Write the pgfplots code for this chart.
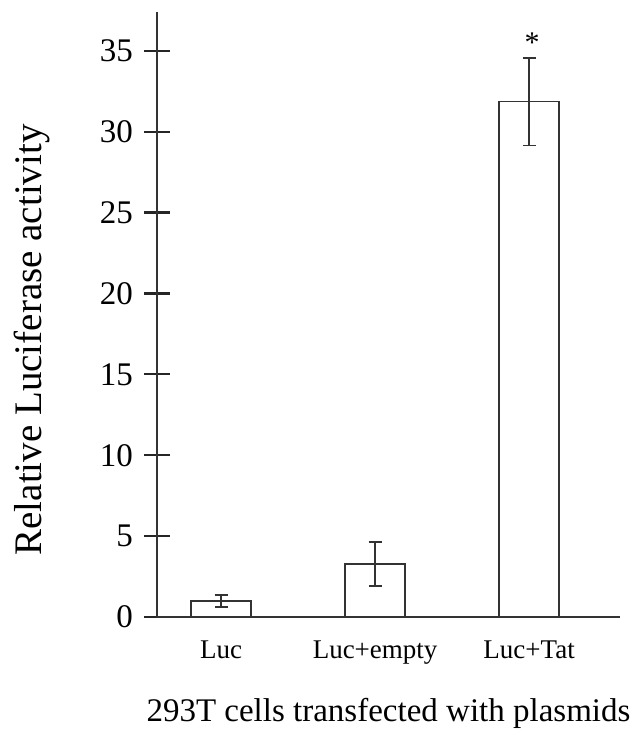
\documentclass[border=0pt]{standalone}
\usepackage{pgfplots}
\pgfplotsset{compat=1.18}
\usepackage{fontspec}
\setmainfont{Liberation Serif}
\begin{document}
\begin{tikzpicture}
\path[use as bounding box] (0,0) rectangle (644bp,731bp);
\begin{axis}[
  at={(157bp,114bp)}, anchor=south west,
  scale only axis,
  width=463bp, height=605bp,
  xmin=-0.416, xmax=2.59,
  ymin=0, ymax=37.4,
  axis lines=left,
  axis line style={-, line width=1.4bp, black!80},
  xtick={0,1,2},
  xticklabel style={font=\fontsize{27bp}{30bp}\selectfont, anchor=base, yshift=-29bp},
  xticklabels={Luc,Luc+empty,Luc+Tat},
  ytick={0,5,10,15,20,25,30,35},
  major tick length=25bp,
  tick align=center,
  x tick style={draw=none},
  y tick style={line width=2.2bp, draw=black!85},
  yticklabel style={font=\fontsize{33bp}{36bp}\selectfont, xshift=-8bp},
  /pgf/number format/assume math mode=true,
  ylabel={Relative Luciferase activity},
  ylabel style={font=\fontsize{39bp}{42bp}\selectfont, at={(axis description cs:-0.27,0.458)}, anchor=center},
  xlabel={293T cells transfected with plasmids},
  xlabel style={font=\fontsize{33bp}{36bp}\selectfont, at={(axis description cs:0.5,-0.16)}, anchor=center},
  clip=false,
]
\addplot[ybar, bar width=60bp, draw=black!80, fill=white, line width=1.4bp,
  error bars/.cd, y dir=both, y explicit,
  error bar style={line width=1.4bp, black!80},
  error mark options={rotate=90, mark size=6.5bp, line width=1.4bp, black!80}]
  coordinates {
  (0,1.0) +- (0,0.37)
  (1,3.28) +- (0,1.36)
  (2,31.85) +- (0,2.7)
};
\node[font=\fontsize{30bp}{30bp}\selectfont] at (axis cs:2.02,35.5) {*};
\end{axis}
\end{tikzpicture}
\end{document}
